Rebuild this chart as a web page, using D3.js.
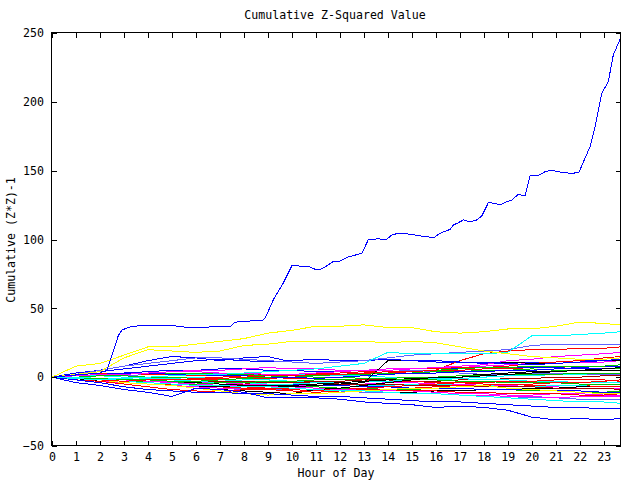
<!DOCTYPE html>
<html><head><meta charset="utf-8">
<script src="https://cdn.jsdelivr.net/npm/d3@7"></script>
<style>
body{margin:0;background:#fff;}
text{font-family:"DejaVu Sans Mono",monospace;font-size:11.6px;fill:#000;}
</style></head>
<body>
<svg id="c" width="640" height="480"></svg>
<script>
// ---- data ----
const title = "Cumulative Z-Squared Value";
const xLabel = "Hour of Day";
const yLabel = "Cumulative (Z*Z)-1";
const xTicks = d3.range(0, 24);
const yTicks = [-50, 0, 50, 100, 150, 200, 250];
const hours = [0,1,2,3,4,5,6,7,8,9,10,11,12,13,14,15,16,17,18,19,20,21,22,23,23.7];

// the outlier series (hour, value)
const bigBlueH = [0,1,2,2.3,2.43,2.6,2.76,2.92,3.26,3.75,4.1,4.5,4.93,5.47,5.89,6.6,7.43,7.64,8.26,8.74,8.89,9.22,9.64,10.0,10.35,10.76,10.97,11.25,11.72,11.93,12.35,12.92,13.18,13.6,13.92,14.2,14.64,15.05,15.55,15.94,16.18,16.6,16.73,16.94,17.15,17.43,17.71,17.92,18.19,18.47,18.68,18.89,19.17,19.44,19.72,19.93,20.28,20.55,20.83,21.32,21.73,21.97,22.43,22.64,22.92,23.19,23.4,23.68];
const bigBlueV = [0,1.6,3,5.2,12.5,21,30,34.3,36.5,37.7,37.2,37.9,37.7,36.5,35.7,36.5,36.7,40,40.8,40.8,43,56,68.3,81,80.7,80,78.4,78.6,83.9,83.7,87.3,90,99.6,100.6,99.6,103.8,104.5,103.5,102,101.6,104.5,107.4,110.5,112.2,114.2,112.9,114.2,117.1,126.7,126.3,125,127,128.7,132.8,131.6,146.1,146.6,149.2,150.3,148.5,148.1,149,167.4,181.9,206.2,214.6,234,245.4];

// hourly series values
const yellowA  = [0,8,10,16,22,22,24,26,28,32,34,37,37,38,36,36,33,32,33,35,35,37,40,39,38];
const yellowB  = [0,2,4,14,20,19,18,19,23,24,26,26,26,26,25,26,25,22,19,17,15,14,13,13,14];
const cyanUp   = [0,-1,-2,-1,0,1,2,2,3,4,5,6,8,10,18,17,17,17,17,18,30,30,31,32,33];
const slateUp  = [0,2,5,8,10,12,14,14,13,12,11,10,11,12,14,16,17,18,19,20,23,24,24,24,24];
const blueUp   = [0,3,5,8,12,15,14,12,14,15,11,10,11,12,13,12,12,11,11,10,9,10,11,12,13];
const redUp    = [0,-1,-2,-3,-2,-2,-1,-1,0,1,1,2,2,3,4,4,5,12,17,19,20,20,21,21,22];
const magUp    = [0,1,2,2,3,4,4,3,3,2,2,3,4,5,5,6,7,8,9,12,13,15,16,17,18];
const blackJump= [0,-1,-2,-3,-4,-5,-6,-7,-7,-6,-7,-6,-5,-4,12,12,12,11,11,11,10,10,11,12,12];
const blackB   = [0,-1,-3,-4,-5,-6,-8,-9,-10,-11,-12,-9,-8,-6,-4,-2,0,0,1,2,3,4,5,6,7];
const greenA   = [0,-1,-1,-2,-2,-3,-3,-2,-1,0,1,2,2,3,4,4,5,6,7,7,8,8,8,8,9];
const greenB   = [0,-1,-2,-3,-4,-5,-5,-4,-4,-3,-3,-2,-2,-1,-1,0,0,1,1,2,2,2,3,3,3];
const blueLow1 = [0,-4,-6,-9,-11,-14,-8,-9,-11,-15,-15,-15,-16,-18,-19,-20,-22,-21,-22,-24,-29,-31,-30,-31,-30];
const blueLow2 = [0,-2,-4,-7,-9,-10,-11,-11,-12,-12,-13,-14,-14,-15,-16,-17,-18,-18,-19,-20,-21,-22,-22,-23,-23];
const cyanLow  = [0,-1,-2,-3,-4,-5,-6,-6,-7,-7,-8,-9,-10,-10,-11,-12,-12,-13,-14,-15,-16,-17,-18,-18,-19];
const magLow   = [0,-2,-3,-4,-5,-6,-7,-8,-9,-9,-10,-11,-10,-10,-11,-12,-12,-13,-13,-14,-14,-15,-14,-14,-14];
const redLow   = [0,-2,-3,-5,-7,-9,-10,-11,-9,-9,-10,-11,-10,-9,-9,-10,-10,-11,-11,-12,-12,-12,-13,-13,-12];
const yellowLow= [0,-1,-2,-4,-5,-6,-8,-10,-12,-13,-12,-12,-11,-10,-9,-8,-8,-7,-6,-8,-9,-10,-11,-12,-12];
const m1  = [0,1,2,1,0,-1,-2,-2,-1,-1,0,1,2,3,3,4,5,5,6,6,7,7,8,8,9];
const m2  = [0,-1,-2,-2,-3,-4,-4,-5,-5,-4,-4,-3,-3,-2,-2,-3,-3,-2,-2,-1,-1,0,0,1,1];
const m3  = [0,1,2,3,4,5,5,6,6,5,5,4,4,5,5,6,6,6,7,7,7,7,6,6,6];
const m4  = [0,-1,-1,-2,-3,-3,-4,-4,-5,-5,-6,-6,-5,-5,-4,-4,-5,-5,-6,-6,-7,-7,-8,-8,-8];
const m5  = [0,-1,-2,-2,-1,-1,0,0,1,1,2,2,1,1,0,0,-1,-1,-2,-2,-3,-3,-4,-4,-4];
const m6  = [0,-1,-2,-3,-3,-4,-4,-5,-6,-6,-7,-7,-8,-8,-9,-9,-8,-8,-9,-9,-10,-10,-11,-11,-10];
const m7  = [0,-1,-2,-4,-5,-6,-7,-7,-8,-9,-9,-10,-10,-10,-11,-11,-10,-10,-9,-9,-8,-8,-7,-7,-7];
const m8  = [0,0,1,1,2,2,3,3,2,2,1,1,2,3,4,5,4,3,2,2,3,3,2,2,2];
const m9  = [0,2,3,3,2,2,1,1,0,0,-1,-1,-2,-2,-3,-3,-4,-4,-5,-5,-6,-6,-6,-7,-7];
const m10 = [0,-1,-1,-2,-2,-3,-3,-4,-4,-5,-5,-6,-6,-7,-7,-8,-8,-8,-9,-9,-9,-10,-10,-11,-11];
const m11 = [0,1,2,3,3,4,5,5,6,7,6,6,5,5,6,6,7,7,8,9,10,10,11,11,12];
const m12 = [0,1,1,0,-1,-2,-3,-3,-2,-2,-3,-4,-5,-6,-6,-5,-5,-6,-6,-7,-7,-6,-6,-5,-5];
const m13 = [0,-1,-2,-3,-4,-5,-6,-6,-7,-8,-8,-9,-9,-8,-7,-6,-5,-4,-4,-3,-3,-2,-2,-2,-3];
const m14 = [0,0,1,1,0,0,-1,-1,0,0,1,1,2,2,3,3,4,4,5,5,6,5,5,6,6];
const m15 = [0,-1,-1,-2,-2,-2,-3,-3,-3,-4,-4,-4,-5,-5,-5,-6,-6,-6,-7,-7,-7,-8,-8,-8,-9];
const m16 = [0,2,4,6,8,10,12,13,12,11,12,13,12,12,13,12,11,11,10,10,11,11,12,12,12];
const m17 = [0,-1,-2,-2,-3,-4,-5,-6,-6,-7,-7,-8,-9,-9,-10,-10,-11,-12,-12,-13,-13,-12,-12,-13,-13];
const m18 = [0,0,-1,-1,-2,-2,-1,0,1,2,2,3,3,4,5,6,6,7,7,8,10,11,12,14,15];
const m19 = [0,0,-1,-1,-2,-2,-3,-4,-4,-5,-5,-4,-4,-3,-3,-2,-2,-1,0,1,1,2,2,3,3];
const m20 = [0,-1,-1,-2,-2,-3,-4,-5,-6,-6,-6,-5,-4,-3,-2,-1,0,1,2,3,4,4,5,5,5];
const m21 = [0,-2,-3,-4,-5,-6,-7,-8,-8,-9,-9,-10,-10,-11,-11,-12,-12,-13,-13,-14,-15,-15,-16,-16,-16];
const m22 = [0,1,2,2,3,3,3,2,2,1,1,0,0,-1,-1,-2,-2,-3,-3,-4,-4,-4,-5,-5,-5];
const m23 = [0,-1,-3,-4,-5,-5,-6,-7,-8,-8,-9,-10,-10,-10,-9,-8,-7,-6,-6,-5,-5,-4,-4,-3,-2];
const m24 = [0,1,2,3,3,2,2,1,1,0,0,-1,0,1,2,3,3,4,4,5,5,6,7,8,8];

const RED="#ff0000",GRN="#00c000",BLU="#0000ff",MAG="#ff00ff",CYN="#00ffff",DRD="#a00000",BLK="#000000",SLT="#6060ff",YEL="#ffff00";
const hourlySeries = [
  [m1,RED],[m2,DRD],[m3,BLU],[m4,MAG],[m5,CYN],[m6,GRN],[m7,BLK],[m8,SLT],
  [m9,RED],[m10,BLU],[m11,MAG],[m12,CYN],[m13,RED],[m14,GRN],[m15,DRD],[m16,BLU],
  [m17,MAG],[m18,RED],[m19,CYN],[m20,BLK],[m21,SLT],[m22,GRN],[m23,RED],[m24,BLU],
  [greenA,GRN],[greenB,GRN],[blackB,BLK],[blackJump,BLK],[magLow,MAG],[redLow,RED],
  [yellowLow,YEL],[cyanLow,CYN],[blueLow2,BLU],[blueLow1,BLU],[redUp,RED],[magUp,MAG],
  [blueUp,BLU],[slateUp,SLT],[cyanUp,CYN],[yellowB,YEL],[yellowA,YEL]
];

// ---- drawing ----
const svg = d3.select("#c");
const L=52, R=620.5, T=33, B=446;
const x = d3.scaleLinear().domain([0, 23.7]).range([L, R]);
const y = d3.scaleLinear().domain([-50, 250]).range([B, T]);
const line = d3.line().x(d=>x(d[0])).y(d=>y(d[1]));

const g = svg.append("g");
hourlySeries.forEach(([vals,col])=>{
  g.append("path").datum(hours.map((h,i)=>[h,vals[i]]))
   .attr("d",line).attr("fill","none").attr("stroke",col).attr("stroke-width",1)
   .attr("shape-rendering","crispEdges");
});
g.append("path").datum(bigBlueH.map((h,i)=>[h,bigBlueV[i]]))
  .attr("d",line).attr("fill","none").attr("stroke",BLU).attr("stroke-width",1)
  .attr("shape-rendering","crispEdges");

// axes
const ax = (gen)=>gen.tickSizeInner(-5).tickSizeOuter(0);
const gBottom = svg.append("g").attr("transform",`translate(0,${B})`)
  .call(ax(d3.axisBottom(x).tickValues(xTicks).tickFormat(d3.format("d")).tickPadding(7)));
const gTop = svg.append("g").attr("transform",`translate(0,${T})`)
  .call(ax(d3.axisTop(x).tickValues(xTicks).tickFormat("")));
const gLeft = svg.append("g").attr("transform",`translate(${L},0)`)
  .call(ax(d3.axisLeft(y).tickValues(yTicks).tickFormat(d3.format("d")).tickPadding(8)));
const gRight = svg.append("g").attr("transform",`translate(${R},0)`)
  .call(ax(d3.axisRight(y).tickValues(yTicks).tickFormat("")));
svg.selectAll(".domain").remove();
svg.selectAll(".tick line").attr("stroke","#000").attr("shape-rendering","crispEdges");
svg.selectAll("g").attr("font-family",null).attr("font-size",null);

// frame
svg.append("rect").attr("x",L-0.5).attr("y",T-0.5).attr("width",R-L).attr("height",B-T)
  .attr("fill","none").attr("stroke","#000").attr("shape-rendering","crispEdges");

// titles
svg.append("text").attr("x",335).attr("y",19).attr("text-anchor","middle").text(title);
svg.append("text").attr("x",336).attr("y",477).attr("text-anchor","middle").text(xLabel);
svg.append("text").attr("transform","translate(15,240) rotate(-90)").attr("text-anchor","middle").text(yLabel);
</script>
</body></html>
